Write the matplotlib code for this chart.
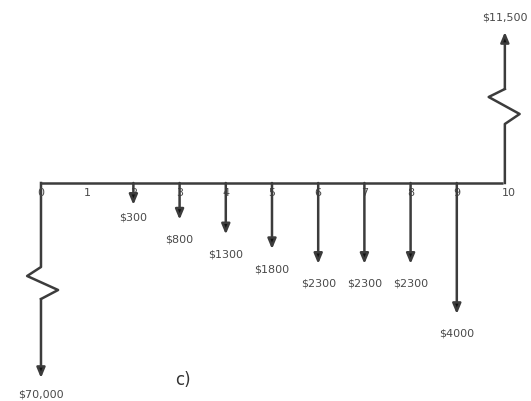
"""Cash flow diagram c)"""
import matplotlib
matplotlib.use("Agg")
import matplotlib.pyplot as plt

# cash flow data
periods = [0, 1, 2, 3, 4, 5, 6, 7, 8, 9, 10]
outflow_periods = [2, 3, 4, 5, 6, 7, 8, 9]
outflow_values = [300, 800, 1300, 1800, 2300, 2300, 2300, 4000]
outflow_labels = ["$300", "$800", "$1300", "$1800", "$2300", "$2300", "$2300", "$4000"]
initial_label = "$70,000"
final_label = "$11,500"

LINE = "#3c3c3c"
TEXT = "#4a4a4a"


def arrow(ax, x, y0, y1):
    """draw a single vertical arrow"""
    ax.annotate("", xy=(x, y1), xytext=(x, y0),
                arrowprops=dict(arrowstyle="-|>,head_length=0.6,head_width=0.25",
                                ec=LINE, fc="#111111", lw=1.8,
                                shrinkA=0, shrinkB=0))


def plot():
    """ploting function"""
    fig = plt.figure(figsize=(5.31, 4.02), dpi=100)
    ax = fig.add_axes([0, 0, 1, 1])
    ax.set_xlim(-0.887, 10.606)
    ax.set_ylim(-218, 184)
    ax.axis("off")

    # time line
    ax.plot([periods[0], periods[-1]], [0, 0], color=LINE, lw=1.8,
            solid_capstyle="butt")
    for p in periods:
        dx = 0.12 if p == 10 else 0
        ax.text(p + dx, -9, str(p), ha="center", va="center",
                fontsize=8, color=TEXT)

    # outflows, length grows with the amount
    for p, v, lab in zip(outflow_periods, outflow_values, outflow_labels):
        length = 13 + 0.0295 * v
        arrow(ax, p, 0, -length)
        gap = 12 if v < 500 else 19
        ax.text(p, -length - gap, lab, ha="center", va="center",
                fontsize=8, color=TEXT)

    # big initial outflow (broken arrow)
    x0 = periods[0]
    ax.plot([x0, x0, x0 - 0.30, x0 + 0.37, x0], [0, -84, -93, -107, -116],
            color=LINE, lw=1.8)
    arrow(ax, x0, -116, -195)
    ax.text(x0, -211, initial_label, ha="center", va="center",
            fontsize=8, color=TEXT)

    # final inflow (broken arrow)
    x1 = periods[-1] + 0.04
    ax.plot([x1, x1, x1 + 0.32, x1 - 0.35, x1], [0, 59, 69, 86, 94],
            color=LINE, lw=1.8)
    arrow(ax, x1, 94, 151)
    ax.text(x1, 166, final_label, ha="center", va="center",
            fontsize=8, color=TEXT)

    ax.text(3.07, -196, "c)", ha="center", va="center", fontsize=12, color="#333333")

    fig.savefig("out.png", dpi=100)


plot()
